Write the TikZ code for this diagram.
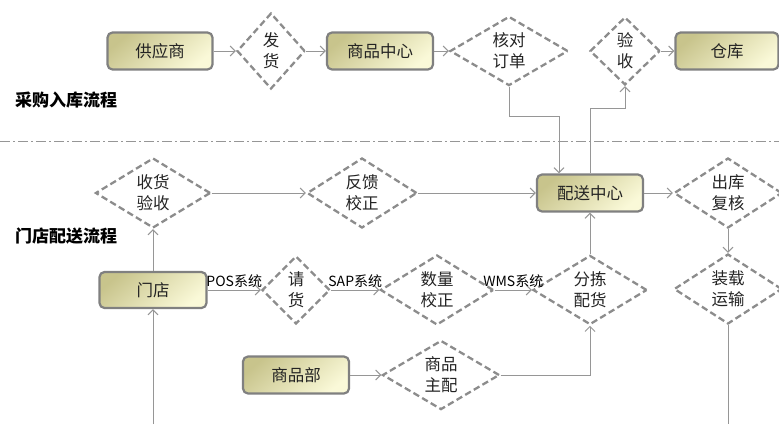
\documentclass[tikz,border=0pt]{standalone}
\usepackage{fontspec}
\setmainfont{Noto Sans CJK SC}
\usetikzlibrary{shapes.geometric,arrows.meta,positioning}
\definecolor{boxdark}{RGB}{200,196,140}
\definecolor{boxlight}{RGB}{250,249,216}
\definecolor{lineg}{RGB}{150,150,150}
\definecolor{dashg}{RGB}{140,140,140}
\definecolor{edgeg}{RGB}{128,128,128}
\definecolor{txt}{RGB}{35,35,35}
\tikzstyle{box} = [rectangle, rounded corners=5pt, minimum width=106pt, minimum height=37pt, draw=edgeg, line width=2.2pt, top color=boxdark, bottom color=boxlight, shading angle=40, text=txt, font=\fontsize{16.5}{22}\selectfont]
\tikzstyle{check} = [diamond, draw=dashg, line width=2.3pt, dash pattern=on 6.5pt off 3.5pt, inner sep=0pt, align=center, text=txt, font=\fontsize{16.5}{21}\selectfont]
\tikzstyle{title} = [anchor=west, inner sep=0pt, font=\fontsize{17}{20}\selectfont\bfseries]

\begin{document}
\begin{tikzpicture}[x=1pt, y=-1pt]
			\tikzset{flow/.style={draw=lineg, line width=1pt, -{Straight Barb[length=5pt,width=10pt]}},
				lbl/.style={above, inner sep=1.5pt, text=black, font=\fontsize{14}{16}\selectfont}}
			\useasboundingbox (0,0) rectangle (779,424);
			% purchasing row
			\node[box, minimum width=105pt] (supplier) at (160,51) {供应商};
			\node[check, minimum width=68pt, minimum height=76pt] (ship) at (271,51) {发\\货};
			\node[box] (goods) at (380,51) {商品中心};
			\node[check, minimum width=118pt, minimum height=68pt] (checkorder) at (509,51) {核对\\订单};
			\node[check, minimum width=70pt, minimum height=68pt] (accept) at (625,51) {验\\收};
			\node[box, minimum width=103pt] (warehouse) at (727,51) {仓库};
			\node[title] (title1) at (15,100) {采购入库流程};
			\draw[lineg, line width=1pt, dash pattern=on 10pt off 3pt on 2pt off 3pt] (0,141) -- (779,141);
			% distribution rows
			\node[check, minimum width=115pt, minimum height=70pt] (receive) at (153,193) {收货\\验收};
			\node[check, minimum width=110pt, minimum height=70pt] (feedback) at (362,193) {反馈\\校正};
			\node[box] (dc) at (590,193) {配送中心};
			\node[check, minimum width=108pt, minimum height=70pt] (outcheck) at (728,193) {出库\\复核};
			\node[title] (title2) at (15,236) {门店配送流程};
			\node[box, minimum width=107pt, minimum height=36pt] (store) at (153,290) {门店};
			\node[check, minimum width=68pt, minimum height=68pt] (request) at (296,290) {请\\货};
			\node[check, minimum width=113pt, minimum height=70pt] (qty) at (437,290) {数量\\校正};
			\node[check, minimum width=114pt, minimum height=68pt] (pick) at (590,290) {分拣\\配货};
			\node[check, minimum width=108pt, minimum height=70pt] (load) at (728,289) {装载\\运输};
			\node[box] (dept) at (296,375) {商品部};
			\node[check, minimum width=117pt, minimum height=69pt] (alloc) at (441,375) {商品\\主配};
			\coordinate (storein) at (153,424);
			\coordinate (loadout) at (728,424);
			% connectors
			\draw[flow] (supplier) -- (ship);
			\draw[flow] (ship) -- (goods);
			\draw[flow] (goods) -- (checkorder);
			\draw[flow] (checkorder.south) -- ++(0,30) -| ([xshift=-31pt]dc.north);
			\draw[flow] (dc.north) -- ++(0,-65) -| (accept.south);
			\draw[flow] (accept) -- (warehouse);
			\draw[flow] (store) -- (receive);
			\draw[flow] (receive) -- (feedback);
			\draw[flow] (feedback) -- (dc);
			\draw[flow] (dc) -- (outcheck);
			\draw[flow] (outcheck) -- (load);
			\draw[draw=lineg, line width=1pt] (load.south) -- (loadout);
			\draw[flow] (storein) -- (store.south);
			\draw[flow] (store) -- node[lbl] {POS系统} (request);
			\draw[flow] (request) -- node[lbl] {SAP系统} (qty);
			\draw[flow] (qty) -- node[lbl] {WMS系统} (pick);
			\draw[flow] (pick) -- (dc);
			\draw[flow] (dept) -- (alloc);
			\draw[flow] (alloc.east) -| (pick.south);
		\end{tikzpicture}
\end{document}
